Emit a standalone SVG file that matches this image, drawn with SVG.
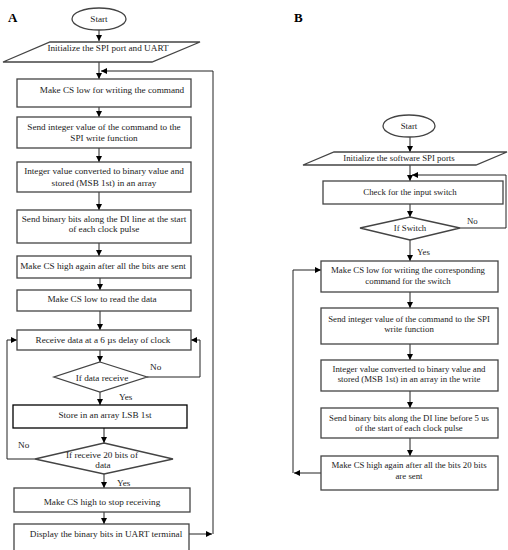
<svg xmlns="http://www.w3.org/2000/svg" width="508" height="550" viewBox="0 0 508 550">
<defs>
<marker id="ah" markerWidth="6" markerHeight="6" refX="6" refY="3" orient="auto" markerUnits="userSpaceOnUse">
<path d="M0,0 L6,3 L0,6 z" fill="#000"/>
</marker>
<style>
.b{fill:#fff;stroke:#444;stroke-width:1.3}
.k{stroke:#000}
.c{fill:none;stroke:#222;stroke-width:1}
.a{marker-end:url(#ah)}
text{font-family:"Liberation Serif","Times New Roman",serif;fill:#222;font-size:9.2px;text-anchor:middle}
.r text{font-size:8.8px}
.l{text-anchor:start}
.h{font-size:13px;font-weight:bold;fill:#000;text-anchor:start}
</style>
</defs>
<rect width="508" height="550" fill="#fff"/>
<text class="h" x="8" y="22">A</text>
<text class="h" x="294" y="22">B</text>

<g id="connectors">
<path class="c a" d="M99,30 V41"/>
<path class="c a" d="M99,62 V79"/>
<path class="c a" d="M189,534 H212"/>
<path class="c a" d="M213,534 V71 H101"/>
<path class="c a" d="M99,107 V117"/>
<path class="c a" d="M99,148 V162"/>
<path class="c a" d="M99,192 V210"/>
<path class="c a" d="M99,243 V256"/>
<path class="c a" d="M100,278 V290"/>
<path class="c a" d="M100,311 V330"/>
<path class="c a" d="M100,350 V362"/>
<path class="c a" d="M147,377 H200 V340 H191"/>
<path class="c a" d="M100,392 V405"/>
<path class="c a" d="M104,428 V443"/>
<path class="c a" d="M35,459 H7 V340 H17"/>
<path class="c a" d="M104,474 V488"/>
<path class="c a" d="M104,512 V524"/>

<path class="c a" d="M410,137 V152"/>
<path class="c a" d="M410,165 V181"/>
<path class="c a" d="M460,228 H506 V175 H412"/>
<path class="c a" d="M410,204 V217"/>
<path class="c a" d="M410,240 V261"/>
<path class="c a" d="M293,473 V270 H321"/>
<path class="c a" d="M321,473 H294"/>
<path class="c a" d="M410,292 V308"/>
<path class="c a" d="M410,344 V360"/>
<path class="c a" d="M410,391 V408"/>
<path class="c a" d="M410,438 V456"/>
</g>

<g id="a-start"><ellipse class="b" cx="99" cy="19" rx="27" ry="11"/><text x="99" y="22">Start</text></g>
<g id="a-init"><polygon class="b" points="50,42 200,42 152,62 3,62"/><text x="108" y="51">Initialize the SPI port and UART</text></g>
<g id="a-b1"><rect class="b" x="17" y="79" width="174" height="28"/><text x="112" y="93">Make CS low for writing the command</text></g>
<g id="a-b2"><rect class="b" x="17" y="117" width="174" height="31"/><text x="104" y="130">Send integer value of the command to the</text><text x="104" y="141">SPI write function</text></g>
<g id="a-b3"><rect class="b" x="17" y="162" width="174" height="30"/><text x="104" y="174">Integer value converted to binary value and</text><text x="104" y="186">stored (MSB 1st) in an array</text></g>
<g id="a-b4"><rect class="b" x="17" y="210" width="174" height="33"/><text x="104" y="222">Send binary bits along the DI line at the start</text><text x="104" y="232">of each clock pulse</text></g>
<g id="a-b5"><rect class="b" x="17" y="256" width="174" height="22"/><text x="103" y="269">Make CS high again after all the bits are sent</text></g>
<g id="a-b6"><rect class="b" x="17" y="290" width="174" height="21"/><text x="102" y="302">Make CS low to read the data</text></g>
<g id="a-b7"><rect class="b" x="17" y="330" width="174" height="20"/><text x="103" y="343">Receive data at a 6 µs delay of clock</text></g>
<g id="a-d1"><polygon class="b" points="100,362 147,377 100,392 54,377"/><text x="102" y="381">If data receive</text></g>
<text class="l" x="150" y="370">No</text>
<text class="l" x="119" y="400">Yes</text>
<g id="a-b8"><rect class="b k" x="13" y="405" width="174" height="23"/><text x="105" y="418">Store in an array LSB 1st</text></g>
<g id="a-d2"><polygon class="b" points="104,443 173,459 104,474 35,459"/><text x="102" y="458">If receive 20 bits of</text><text x="103" y="468">data</text></g>
<text class="l" x="18" y="448">No</text>
<text class="l" x="117" y="486">Yes</text>
<g id="a-b9"><rect class="b" x="14" y="488" width="176" height="24"/><text x="102" y="505">Make CS high to stop receiving</text></g>
<g id="a-b10"><rect class="b" x="14" y="524" width="175" height="40"/><text x="106" y="537">Display the binary bits in UART terminal</text></g>

<g class="r">
<g id="b-start"><ellipse class="b" cx="409" cy="126" rx="26" ry="11"/><text x="409" y="129">Start</text></g>
<g id="b-init"><polygon class="b" points="334,152 507,152 476,165 303,165"/><text x="399" y="161">Initialize the software SPI ports</text></g>
<g id="b-b1"><rect class="b" x="323" y="181" width="180" height="23"/><text x="410" y="195">Check for the input switch</text></g>
<g id="b-d1"><polygon class="b" points="410,217 460,228 410,240 360,228"/><text x="410" y="231">If Switch</text></g>
<text class="l" x="467" y="224">No</text>
<text class="l" x="417" y="255">Yes</text>
<g id="b-b2"><rect class="b" x="321" y="261" width="177" height="31"/><text x="408" y="273">Make CS low for writing the corresponding</text><text x="408" y="284">command for the switch</text></g>
<g id="b-b3"><rect class="b" x="321" y="308" width="177" height="36"/><text x="409" y="322">Send integer value of the command to the SPI</text><text x="409" y="332">write function</text></g>
<g id="b-b4"><rect class="b" x="321" y="360" width="177" height="31"/><text x="409" y="372">Integer value converted to binary value and</text><text x="409" y="382">stored (MSB 1st) in an array in the write</text></g>
<g id="b-b5"><rect class="b" x="321" y="408" width="177" height="30"/><text x="409" y="421">Send binary bits along the DI line before 5 us</text><text x="409" y="431">of the start of each clock pulse</text></g>
<g id="b-b6"><rect class="b" x="321" y="456" width="177" height="34"/><text x="409" y="468">Make CS high again after all the bits 20 bits</text><text x="409" y="479">are sent</text></g>
</g>
</svg>
